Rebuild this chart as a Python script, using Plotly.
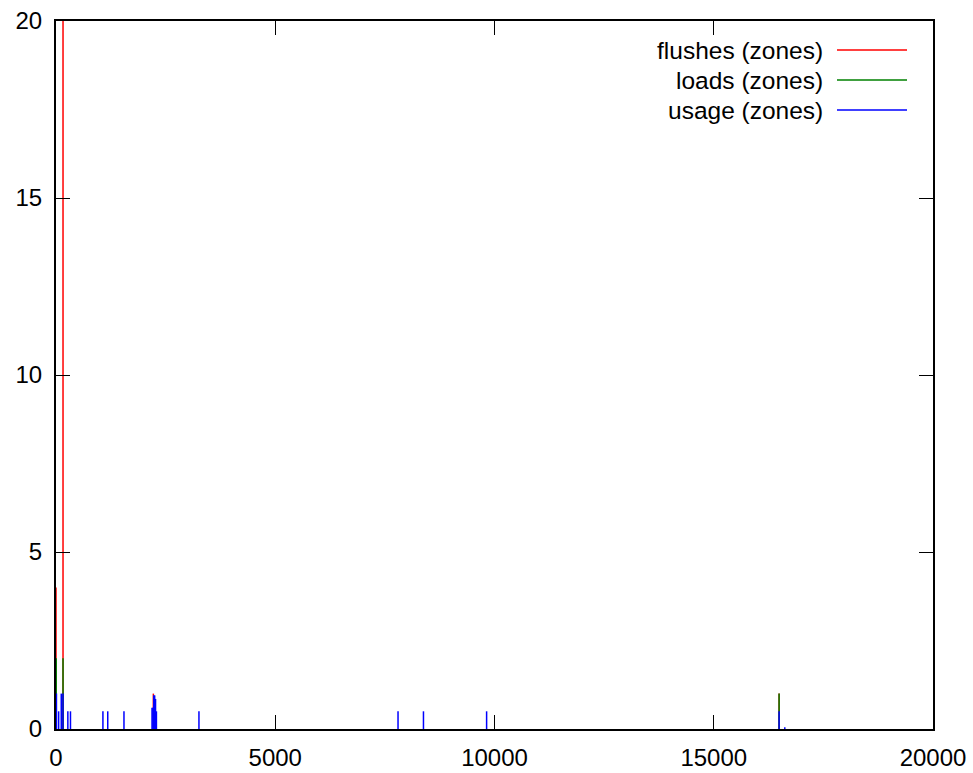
import plotly.graph_objects as go

# ---- data ----
flush_x = [0, 160, 2220, 16490]
flush_y = [4, 20, 1.0, 1.0]

load_x = [5, 160, 16490]
load_y = [2, 2, 1.0]

usage_x = [10, 60, 120, 160, 270, 330, 1070, 1180, 1550,
           2190, 2210, 2230, 2250, 2270, 2290,
           3260, 7800, 8380, 9820, 16490, 16620]
usage_y = [1.0, 0.5, 1.0, 1.0, 0.5, 0.5, 0.5, 0.5, 0.5,
           0.6, 0.6, 0.95, 0.95, 0.85, 0.5,
           0.5, 0.5, 0.5, 0.5, 0.5, 0.05]

series_names = ["flushes (zones)", "loads (zones)", "usage (zones)"]
series_colors = ["#ff0000", "#008000", "#0000ff"]

x_ticks = [0, 5000, 10000, 15000, 20000]
y_ticks = [0, 5, 10, 15, 20]


def impulses(xs, ys):
    px, py = [], []
    for x, y in zip(xs, ys):
        px += [x, x, None]
        py += [0, y, None]
    return px, py


fig = go.Figure()
for (xs, ys), name, color in zip(
        [(flush_x, flush_y), (load_x, load_y), (usage_x, usage_y)],
        series_names, series_colors):
    ix, iy = impulses(xs, ys)
    fig.add_trace(go.Scatter(x=ix, y=iy, mode="lines", name=name,
                             line=dict(color=color, width=1.5),
                             showlegend=False, hoverinfo="skip"))

FONT = "Liberation Sans, Arial, sans-serif"

L, R, T, B = 56, 933, 21, 729
PW, PH = R - L, B - T

# gnuplot-style legend: right-aligned text with sample line on the right
for i, (name, color) in enumerate(zip(series_names, series_colors)):
    ypos = 1 - (50 + 30 * i - T) / PH
    fig.add_annotation(x=(822 - L) / PW, y=ypos, xref="paper", yref="paper",
                       text=name, showarrow=False, xanchor="right", yanchor="middle",
                       xshift=3,
                       font=dict(family=FONT, size=24.5, color="black"))
    fig.add_shape(type="line", xref="paper", yref="paper",
                  x0=(837 - L) / PW, x1=(907 - L) / PW, y0=ypos, y1=ypos,
                  line=dict(color=color, width=1.3))

axis_common = dict(
    showgrid=False, zeroline=False, showline=True, linecolor="black", linewidth=2,
    mirror="allticks", ticks="inside", ticklen=14, tickwidth=1, tickcolor="black",
    tickfont=dict(family=FONT, size=24, color="black"), automargin=False,
)

fig.update_xaxes(range=[0, 20000], tickvals=x_ticks,
                 ticktext=[str(v) for v in x_ticks], ticklabelstandoff=6,
                 **axis_common)
fig.update_yaxes(range=[0, 20], tickvals=y_ticks,
                 ticktext=[str(v) for v in y_ticks], ticklabelstandoff=7,
                 **axis_common)

fig.update_layout(
    width=973, height=773,
    margin=dict(l=L, r=973 - R, t=T, b=773 - B, autoexpand=False),
    plot_bgcolor="white", paper_bgcolor="white",
    showlegend=False,
)

fig.write_html(
    "out.html",
    config={"displayModeBar": False},
    post_script="document.body.style.margin='0';document.body.style.overflow='hidden';",
)
